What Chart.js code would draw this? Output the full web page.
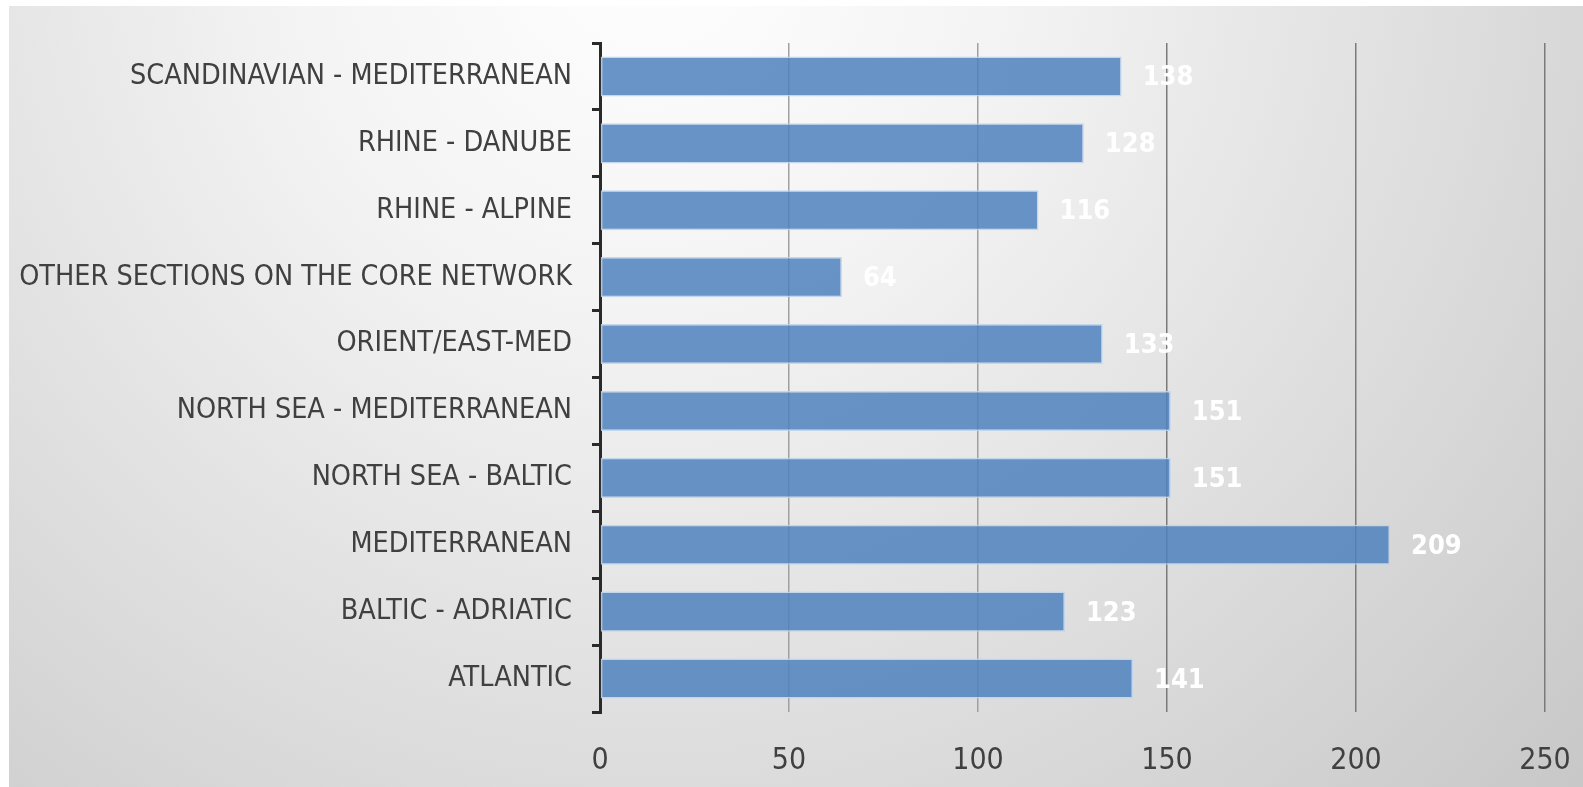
<!DOCTYPE html>
<html>
<head>
<meta charset="utf-8">
<script src="https://cdn.jsdelivr.net/npm/chart.js@4/dist/chart.umd.min.js"></script>
<style>
    html, body { margin: 0; padding: 0; background: #ffffff; }
    #wrap { width: 1583px; height: 787px; }
</style>
</head>
<body>
<div id="wrap"><canvas id="corridorChart" width="1583" height="787"></canvas></div>
<script>
// Chart data (top row first)
const corridors = [
    'SCANDINAVIAN - MEDITERRANEAN',
    'RHINE - DANUBE',
    'RHINE - ALPINE',
    'OTHER SECTIONS ON THE CORE NETWORK',
    'ORIENT/EAST-MED',
    'NORTH SEA - MEDITERRANEAN',
    'NORTH SEA - BALTIC',
    'MEDITERRANEAN',
    'BALTIC - ADRIATIC',
    'ATLANTIC'
];
const corridorValues = [138, 128, 116, 64, 133, 151, 151, 209, 123, 141];
const axisTicks = [0, 50, 100, 150, 200, 250];

const FONT = '"Liberation Sans Narrow", "DejaVu Sans Condensed", "Arial Narrow", sans-serif';

// Gray radial backdrop with a thin white margin on the left and top
const backdrop = {
    id: 'backdrop',
    beforeDraw(chart) {
        const ctx = chart.ctx;
        ctx.save();
        ctx.fillStyle = '#ffffff';
        ctx.fillRect(0, 0, chart.width, chart.height);
        const g = ctx.createRadialGradient(650, -60, 0, 650, -60, 1250);
        g.addColorStop(0, '#ffffff');
        g.addColorStop(0.3, '#f3f3f3');
        g.addColorStop(1, '#c8c8c8');
        ctx.fillStyle = g;
        ctx.fillRect(9, 6, chart.width - 9, chart.height - 6);
        ctx.restore();
    }
};

// White value labels right of each bar
const valueLabels = {
    id: 'valueLabels',
    afterDatasetsDraw(chart) {
        const ctx = chart.ctx;
        const meta = chart.getDatasetMeta(0);
        ctx.save();
        ctx.font = 'bold 27px ' + FONT;
        ctx.fillStyle = '#ffffff';
        ctx.textAlign = 'left';
        ctx.textBaseline = 'middle';
        meta.data.forEach((bar, i) => {
            ctx.fillText(String(corridorValues[i]), bar.x + 21, bar.y + 2);
        });
        ctx.restore();
    }
};

const ctx = document.getElementById('corridorChart').getContext('2d');
new Chart(ctx, {
    type: 'bar',
    data: {
        labels: corridors,
        datasets: [{
            data: corridorValues,
            backgroundColor: 'rgba(79, 129, 189, 0.85)',
            borderColor: 'rgba(190, 212, 238, 0.9)',
            borderWidth: 1.5,
            borderSkipped: false,
            barPercentage: 0.6,
            categoryPercentage: 1.0
        }]
    },
    options: {
        indexAxis: 'y',
        responsive: false,
        animation: false,
        layout: { padding: { left: 9, top: 43, right: 38, bottom: 0 } },
        plugins: {
            legend: { display: false },
            tooltip: { enabled: false }
        },
        scales: {
            x: {
                min: 0,
                max: 250,
                afterBuildTicks: (scale) => {
                    scale.ticks = axisTicks.map(v => ({ value: v }));
                },
                afterFit: (scale) => {
                    scale.height = 75;
                    scale.paddingLeft = 0;
                    scale.paddingRight = 0;
                },
                border: { display: false },
                grid: {
                    drawTicks: false,
                    color: (c) => (c.tick && c.tick.value <= 100 ? '#a0a0a0' : '#7a7a7a'),
                    lineWidth: 1.5
                },
                ticks: {
                    color: '#404040',
                    padding: 31,
                    font: { family: FONT, size: 30 }
                }
            },
            y: {
                afterFit: (scale) => { scale.width = 591; },
                border: { display: true, color: '#2a2a2a', width: 3 },
                grid: {
                    offset: true,
                    drawOnChartArea: false,
                    drawTicks: true,
                    tickLength: 8,
                    color: '#2a2a2a',
                    lineWidth: 3
                },
                ticks: {
                    color: '#404040',
                    padding: 20,
                    font: { family: FONT, size: 28.5 }
                }
            }
        }
    },
    plugins: [backdrop, valueLabels]
});
</script>
</body>
</html>
